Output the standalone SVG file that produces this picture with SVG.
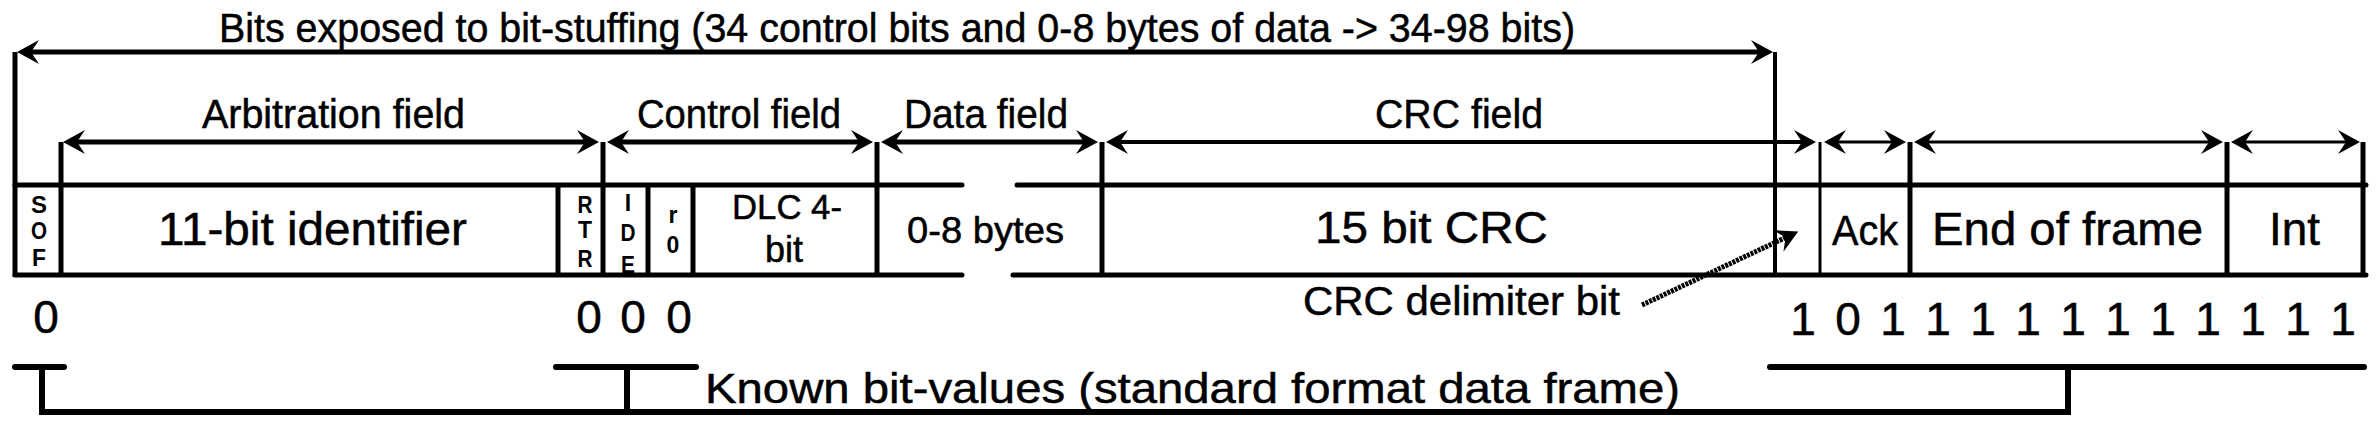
<svg xmlns="http://www.w3.org/2000/svg" width="2379" height="429" viewBox="0 0 2379 429">
<style>
.t{font-family:"Liberation Sans",Arial,Helvetica,sans-serif;fill:#000;stroke:#000;stroke-width:0.5}
.s{font-family:"Liberation Sans",Arial,Helvetica,sans-serif;font-size:23px;font-weight:bold;text-anchor:middle;fill:#000}
.ln{stroke:#000;fill:none}
.ar{stroke:#000;fill:none;marker-start:url(#ah);marker-end:url(#ah)}
</style>
<defs>
<marker id="ah" markerUnits="userSpaceOnUse" markerWidth="24" markerHeight="26" refX="14" refY="12" orient="auto-start-reverse" viewBox="0 0 24 26">
<path d="M0,0 L22,12 L0,24 L8,12 Z" fill="#000"/>
</marker>
<marker id="ah1" markerUnits="userSpaceOnUse" markerWidth="24" markerHeight="26" refX="14" refY="12" orient="auto" viewBox="0 0 24 26">
<path d="M0,0 L22,12 L0,24 L8,12 Z" fill="#000"/>
</marker>
</defs>
<rect width="2379" height="429" fill="#fff"/>

<g id="title">
<text class="t" x="219" y="42" font-size="40" textLength="1356" lengthAdjust="spacingAndGlyphs">Bits exposed to bit-stuffing (34 control bits and 0-8 bytes of data -&gt; 34-98 bits)</text>
</g>

<g id="field-labels">
<text class="t" x="202" y="128" font-size="40" textLength="263" lengthAdjust="spacingAndGlyphs">Arbitration field</text>
<text class="t" x="637" y="128" font-size="40" textLength="204" lengthAdjust="spacingAndGlyphs">Control field</text>
<text class="t" x="904" y="128" font-size="40" textLength="164" lengthAdjust="spacingAndGlyphs">Data field</text>
<text class="t" x="1375" y="128" font-size="40" textLength="168" lengthAdjust="spacingAndGlyphs">CRC field</text>
</g>

<g id="frame-outline">
<path class="ln" stroke-width="5" stroke-linecap="round" d="M15,185 H962 M1017,185 H2366 M15,275 H962 M1013,275 H2366"/>
</g>

<g id="sof">
<path class="ln" stroke-width="5" d="M15,52 V277"/>
<text class="s" x="39" y="213" textLength="16" lengthAdjust="spacingAndGlyphs">S</text>
<text class="s" x="39" y="239" textLength="16" lengthAdjust="spacingAndGlyphs">O</text>
<text class="s" x="39" y="266" textLength="14" lengthAdjust="spacingAndGlyphs">F</text>
</g>

<g id="identifier">
<path class="ln" stroke-width="5" d="M61,142 V277"/>
<text class="t" x="158" y="245" font-size="46" textLength="309" lengthAdjust="spacingAndGlyphs">11-bit identifier</text>
</g>

<g id="rtr">
<path class="ln" stroke-width="5" d="M558,185 V277"/>
<text class="s" x="585" y="213" textLength="15" lengthAdjust="spacingAndGlyphs">R</text>
<text class="s" x="585" y="238" textLength="14" lengthAdjust="spacingAndGlyphs">T</text>
<text class="s" x="585" y="267" textLength="15" lengthAdjust="spacingAndGlyphs">R</text>
</g>

<g id="ide">
<path class="ln" stroke-width="5" d="M603,142 V277"/>
<text class="s" x="628" y="211">I</text>
<text class="s" x="628" y="241" textLength="15" lengthAdjust="spacingAndGlyphs">D</text>
<text class="s" x="628" y="273" textLength="14" lengthAdjust="spacingAndGlyphs">E</text>
</g>

<g id="r0">
<path class="ln" stroke-width="5" d="M648,185 V277"/>
<text class="s" x="673" y="223" font-weight="normal">r</text>
<text class="s" x="673" y="253">0</text>
</g>

<g id="dlc">
<path class="ln" stroke-width="5" d="M693,185 V277"/>
<text class="t" x="732" y="219" font-size="35" textLength="110" lengthAdjust="spacingAndGlyphs">DLC 4-</text>
<text class="t" x="784" y="262" font-size="36" text-anchor="middle">bit</text>
</g>

<g id="data">
<path class="ln" stroke-width="5" d="M877,142 V277"/>
<text class="t" x="907" y="243" font-size="37" textLength="157" lengthAdjust="spacingAndGlyphs">0-8 bytes</text>
</g>

<g id="crc">
<path class="ln" stroke-width="5" d="M1102,142 V277"/>
<text class="t" x="1315" y="243" font-size="44" textLength="233" lengthAdjust="spacingAndGlyphs">15 bit CRC</text>
</g>

<g id="crc-delimiter">
<path class="ln" stroke-width="4" d="M1775,52 V277"/>
<text class="t" x="1303" y="315" font-size="40" textLength="317" lengthAdjust="spacingAndGlyphs">CRC delimiter bit</text>
</g>

<g id="ack">
<path class="ln" stroke-width="3" d="M1820,142 V277"/>
<text class="t" x="1832" y="245" font-size="42" textLength="66" lengthAdjust="spacingAndGlyphs">Ack</text>
</g>

<g id="end-of-frame">
<path class="ln" stroke-width="5" d="M1910,142 V277"/>
<text class="t" x="1932" y="245" font-size="46" textLength="271" lengthAdjust="spacingAndGlyphs">End of frame</text>
</g>

<g id="int">
<path class="ln" stroke-width="5" d="M2227,142 V277 M2363,142 V277"/>
<text class="t" x="2269" y="245" font-size="46" textLength="51" lengthAdjust="spacingAndGlyphs">Int</text>
</g>

<g id="bit-values">
<text class="t" font-size="46" text-anchor="middle" y="333"><tspan x="46">0</tspan><tspan x="589">0</tspan><tspan x="633">0</tspan><tspan x="679">0</tspan></text>
<text class="t" font-size="46" text-anchor="middle" y="335"><tspan x="1803">1</tspan><tspan x="1848">0</tspan><tspan x="1893">1</tspan><tspan x="1938">1</tspan><tspan x="1983">1</tspan><tspan x="2028">1</tspan><tspan x="2073">1</tspan><tspan x="2118">1</tspan><tspan x="2163">1</tspan><tspan x="2208">1</tspan><tspan x="2253">1</tspan><tspan x="2298">1</tspan><tspan x="2343">1</tspan></text>
</g>

<g id="known-bits-label">
<text class="t" x="705" y="403" font-size="42" textLength="975" lengthAdjust="spacingAndGlyphs">Known bit-values (standard format data frame)</text>
</g>

<g id="connectors">
<path class="ar" stroke-width="5" d="M25,52 H1765"/>
<path class="ar" stroke-width="5" d="M71,142 H591"/>
<path class="ar" stroke-width="5" d="M615,142 H865"/>
<path class="ar" stroke-width="5" d="M889,142 H1090"/>
<path class="ar" stroke-width="4" d="M1114,142 H1808"/>
<path class="ar" stroke-width="3" d="M1832,142 H1898"/>
<path class="ar" stroke-width="3" d="M1922,142 H2215"/>
<path class="ar" stroke-width="3" d="M2239,142 H2352"/>
<path class="ln" stroke-width="5" stroke-dasharray="3 1" d="M1642,305 L1791,235" marker-end="url(#ah1)"/>
<path class="ln" stroke-width="6" stroke-linecap="round" d="M15,367 H64 M556,367 H696 M1770,367 H2364"/>
<path class="ln" stroke-width="6" d="M42,367 V412 M627,367 V412 M2068,367 V415 M39,412 H2071"/>
</g>
</svg>
